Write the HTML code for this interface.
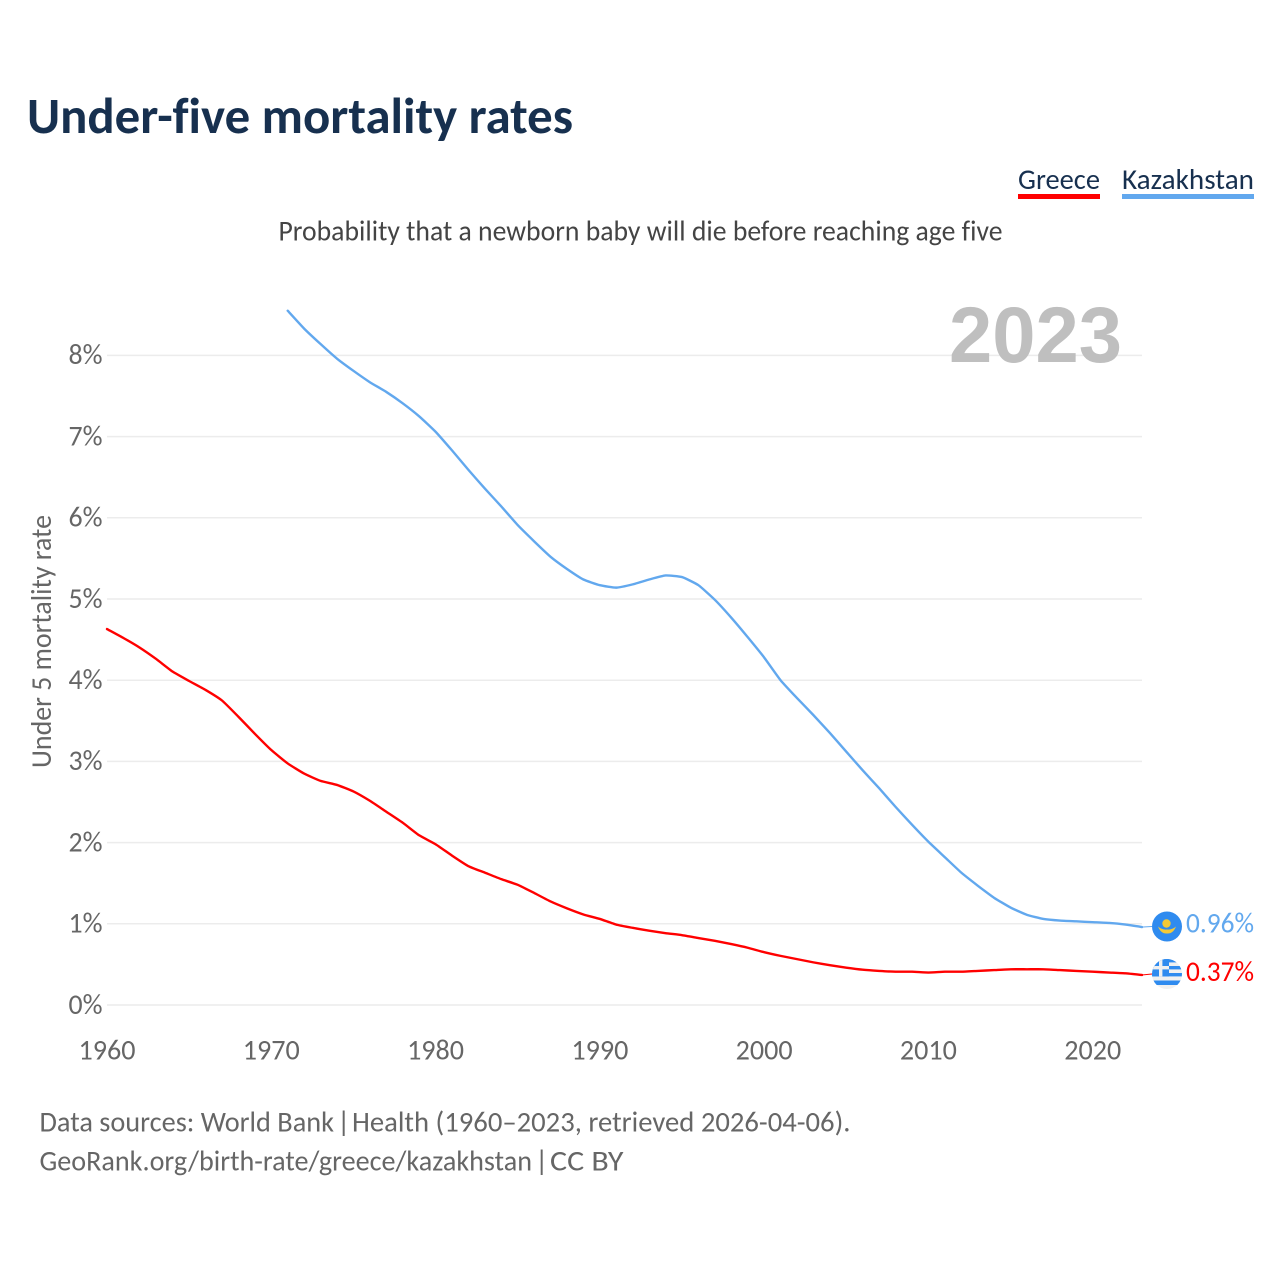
<!DOCTYPE html>
<html lang="en">
<head>
<meta charset="utf-8">
<title>Under-five mortality rates</title>
<style>
html,body{margin:0;padding:0;background:#fff;width:1280px;height:1280px;overflow:hidden}
svg{display:block}
text{font-family:"Carlito","Liberation Sans",sans-serif;font-variant-ligatures:none}
</style>
</head>
<body>
<svg id="chart" xmlns="http://www.w3.org/2000/svg" width="1280" height="1280" viewBox="0 0 1280 1280">
  <defs>
    <clipPath id="flag-clip-gr"><circle cx="1167" cy="974" r="15"/></clipPath>
  </defs>
  <rect width="1280" height="1280" fill="#fff"/>
  <text x="27" y="133" font-size="51" font-weight="700" fill="#17304f" textLength="546" lengthAdjust="spacingAndGlyphs">Under-five mortality rates</text>

  <text x="1018" y="189" font-size="29" fill="#17304f" textLength="82" lengthAdjust="spacingAndGlyphs">Greece</text>
  <rect x="1018" y="194" width="82" height="5" fill="#ff0000"/>
  <text x="1122" y="189" font-size="29" fill="#17304f" textLength="132" lengthAdjust="spacingAndGlyphs">Kazakhstan</text>
  <rect x="1122" y="194" width="132" height="5" fill="#62a8ee"/>

  <text x="278.5" y="240.5" font-size="29" fill="#444" textLength="724" lengthAdjust="spacingAndGlyphs">Probability that a newborn baby will die before reaching age five</text>

  <g id="grid"></g>
  <text x="949" y="362" font-size="79" font-weight="700" fill="#bfbfbf" textLength="173" lengthAdjust="spacingAndGlyphs" style="font-family:'Liberation Sans',sans-serif">2023</text>
  <g id="y-ticks"></g>
  <g id="x-ticks"></g>
  <text transform="translate(51,768) rotate(-90)" x="0" y="0" font-size="29" fill="#666" textLength="253" lengthAdjust="spacingAndGlyphs">Under 5 mortality rate</text>

  <path id="line-greece" fill="none" stroke="#ff0000" stroke-width="2.4" stroke-linejoin="round" stroke-linecap="round"/>
  <path id="line-kazakhstan" fill="none" stroke="#62a8ee" stroke-width="2.4" stroke-linejoin="round" stroke-linecap="round"/>
  <path id="connector-greece" fill="none" stroke="#ff0000" stroke-width="1"/>
  <path id="connector-kazakhstan" fill="none" stroke="#62a8ee" stroke-width="1"/>

  <g>
    <circle cx="1167" cy="926.5" r="15" fill="#2f8bef"/>
    <circle cx="1166.5" cy="923.5" r="4.2" fill="#f4c935"/>
    <path d="M1158 926.5 Q1161 934 1167 933.5 Q1173 934 1176 926.5 Q1172 930 1167 929.5 Q1162 930 1158 926.5Z" fill="#f4c935"/>
  </g>
  <g clip-path="url(#flag-clip-gr)">
    <rect x="1152" y="959" width="30" height="30" fill="#f0f0f0"/>
    <rect x="1152" y="959" width="30" height="3.4" fill="#2f8bef"/>
    <rect x="1152" y="966" width="30" height="3.4" fill="#2f8bef"/>
    <rect x="1152" y="973" width="30" height="3.4" fill="#2f8bef"/>
    <rect x="1152" y="980.5" width="30" height="4.5" fill="#2f8bef"/>
    <rect x="1152" y="959" width="17" height="17.4" fill="#2f8bef"/>
    <rect x="1152" y="966" width="17" height="3.4" fill="#f0f0f0"/>
    <rect x="1159" y="959" width="3.4" height="17.4" fill="#f0f0f0"/>
  </g>

  <text id="value-kazakhstan" x="1186" y="932.5" font-size="29" fill="#62a8ee" textLength="68" lengthAdjust="spacingAndGlyphs"></text>
  <text id="value-greece" x="1186" y="981" font-size="29" fill="#ff0000" textLength="68" lengthAdjust="spacingAndGlyphs"></text>

  <g font-size="29" fill="#666">
    <text x="39.5" y="1131.5" textLength="294.5" lengthAdjust="spacingAndGlyphs">Data sources: World Bank</text>
    <text x="337" y="1131.5">|</text>
    <text x="352" y="1131.5" textLength="498.5" lengthAdjust="spacingAndGlyphs">Health (1960–2023, retrieved 2026-04-06).</text>
  </g>
  <g font-size="29" fill="#666">
    <text x="39.5" y="1170.5" textLength="492.5" lengthAdjust="spacingAndGlyphs">GeoRank.org/birth-rate/greece/kazakhstan</text>
    <text x="535" y="1170.5">|</text>
    <text x="550" y="1170.5" textLength="73.5" lengthAdjust="spacingAndGlyphs">CC BY</text>
  </g>
</svg>
<script>
const greeceStartYear = 1960;
const kazakhstanStartYear = 1971;
const greeceValues = [4.63,4.52,4.40,4.26,4.105,3.99,3.88,3.75,3.55,3.34,3.14,2.975,2.85,2.76,2.71,2.63,2.515,2.38,2.245,2.09,1.98,1.84,1.71,1.63,1.55,1.48,1.38,1.275,1.19,1.115,1.06,0.99,0.95,0.915,0.885,0.86,0.825,0.79,0.75,0.705,0.65,0.605,0.565,0.525,0.49,0.46,0.435,0.42,0.41,0.41,0.40,0.41,0.41,0.42,0.43,0.44,0.44,0.44,0.43,0.42,0.41,0.40,0.39,0.37];
const kazakhstanValues = [8.55,8.33,8.14,7.96,7.81,7.67,7.55,7.41,7.25,7.06,6.83,6.59,6.36,6.14,5.91,5.71,5.52,5.37,5.24,5.17,5.14,5.18,5.24,5.29,5.27,5.17,4.99,4.77,4.53,4.28,4.00,3.78,3.57,3.35,3.12,2.89,2.67,2.44,2.22,2.01,1.82,1.63,1.47,1.32,1.20,1.11,1.06,1.04,1.03,1.02,1.01,0.99,0.96];
const xTickYears = [1960,1970,1980,1990,2000,2010,2020];
const yTickValues = [0,1,2,3,4,5,6,7,8];

const SVGNS = 'http://www.w3.org/2000/svg';
function xScale(year){ return 107 + (year - 1960) * (1142 - 107) / 63; }
function yScale(v){ return 1005 - v * 81.2; }
function linePath(start, values){
  const pts = values.map(function(v, i){ return [xScale(start + i), yScale(v)]; });
  let d = 'M' + pts[0][0].toFixed(2) + ' ' + pts[0][1].toFixed(2);
  for (let i = 0; i < pts.length - 1; i++) {
    const p0 = pts[Math.max(i - 1, 0)];
    const p1 = pts[i];
    const p2 = pts[i + 1];
    const p3 = pts[Math.min(i + 2, pts.length - 1)];
    const t = 0.08;
    d += ' C' + (p1[0] + (p2[0] - p0[0]) * t).toFixed(2) + ' ' + (p1[1] + (p2[1] - p0[1]) * t).toFixed(2) +
         ' ' + (p2[0] - (p3[0] - p1[0]) * t).toFixed(2) + ' ' + (p2[1] - (p3[1] - p1[1]) * t).toFixed(2) +
         ' ' + p2[0].toFixed(2) + ' ' + p2[1].toFixed(2);
  }
  return d;
}

const gridGroup = document.getElementById('grid');
const yTickGroup = document.getElementById('y-ticks');
const xTickGroup = document.getElementById('x-ticks');

yTickValues.forEach(function(v){
  const line = document.createElementNS(SVGNS, 'line');
  
  
  line.setAttribute('x1', 107);
  line.setAttribute('x2', 1142);
  line.setAttribute('y1', yScale(v));
  line.setAttribute('y2', yScale(v));
  line.setAttribute('stroke', '#ececec');
  line.setAttribute('stroke-width', '1.5');
  gridGroup.appendChild(line);

  const label = document.createElementNS(SVGNS, 'text');
  
  
  label.setAttribute('x', 68.5);
  label.setAttribute('y', yScale(v) + 8.8);
  label.setAttribute('font-size', '29');
  label.setAttribute('fill', '#666');
  label.setAttribute('textLength', '34');
  label.setAttribute('lengthAdjust', 'spacingAndGlyphs');
  label.textContent = v + '%';
  yTickGroup.appendChild(label);
});

xTickYears.forEach(function(year){
  const label = document.createElementNS(SVGNS, 'text');
  
  
  label.setAttribute('x', xScale(year) - 28.5);
  label.setAttribute('y', 1059.5);
  label.setAttribute('font-size', '29');
  label.setAttribute('fill', '#666');
  label.setAttribute('textLength', '57');
  label.setAttribute('lengthAdjust', 'spacingAndGlyphs');
  label.textContent = year;
  xTickGroup.appendChild(label);
});

document.getElementById('line-greece').setAttribute('d', linePath(greeceStartYear, greeceValues));
document.getElementById('line-kazakhstan').setAttribute('d', linePath(kazakhstanStartYear, kazakhstanValues));

const lastGreece = greeceValues[greeceValues.length - 1];
const lastKazakhstan = kazakhstanValues[kazakhstanValues.length - 1];
document.getElementById('connector-greece').setAttribute('d', 'M1142 ' + yScale(lastGreece) + ' L1152 974');
document.getElementById('connector-kazakhstan').setAttribute('d', 'M1142 ' + yScale(lastKazakhstan) + ' L1152 926.5');
document.getElementById('value-greece').textContent = lastGreece.toFixed(2) + '%';
document.getElementById('value-kazakhstan').textContent = lastKazakhstan.toFixed(2) + '%';
</script>
</body>
</html>
